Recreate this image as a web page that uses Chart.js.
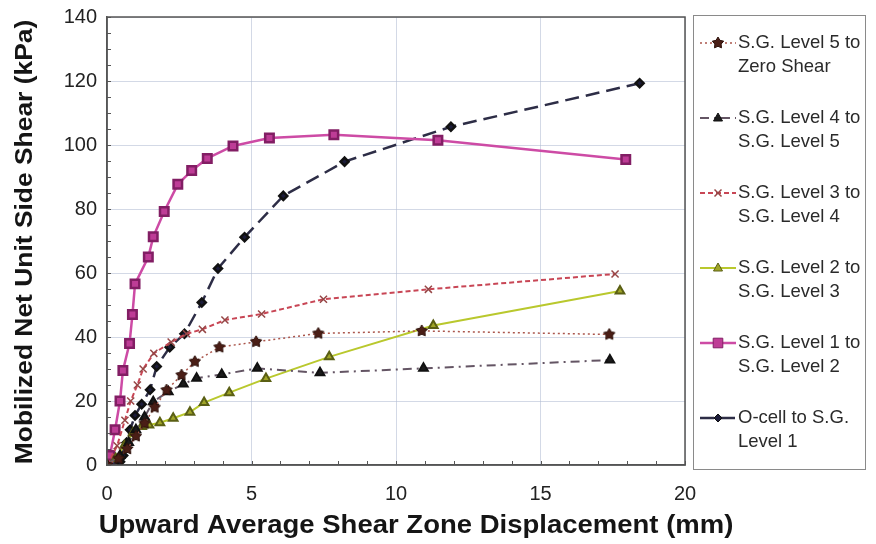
<!DOCTYPE html>
<html>
<head>
<meta charset="utf-8">
<script src="https://cdn.jsdelivr.net/npm/chart.js@4.4.0/dist/chart.umd.min.js"></script>
<style>
  body { margin: 0; background: #fff; }
  #wrap { width: 876px; height: 544px; }
</style>
</head>
<body>
<div id="wrap"><canvas id="shearChart" width="876" height="544"></canvas></div>
<script>
// series names (legend, two lines each)
var names = [
  ["S.G. Level 5 to", "Zero Shear"],
  ["S.G. Level 4 to", "S.G. Level 5"],
  ["S.G. Level 3 to", "S.G. Level 4"],
  ["S.G. Level 2 to", "S.G. Level 3"],
  ["S.G. Level 1 to", "S.G. Level 2"],
  ["O-cell to S.G.", "Level 1"]
];

// displacement (mm) / shear (kPa)
var xL5 = [0, 0.4, 0.7, 1.0, 1.3, 1.65, 2.06, 2.58, 3.04, 3.89, 5.16, 7.31, 10.89, 17.38];
var yL5 = [0, 2, 5, 9, 13, 18, 23.4, 28.1, 32.3, 36.8, 38.5, 41.1, 41.9, 40.8];

var xL4 = [0, 0.45, 0.75, 1.0, 1.3, 1.6, 2.12, 2.64, 3.1, 3.97, 5.2, 7.37, 10.95, 17.4];
var yL4 = [0, 3, 7, 11, 15, 19.8, 22.9, 25.3, 27.1, 28.3, 30.2, 28.8, 30.2, 32.8];

var xL3 = [0, 0.35, 0.62, 0.82, 1.05, 1.25, 1.62, 2.22, 2.75, 3.3, 4.08, 5.35, 7.49, 11.12, 17.58];
var yL3 = [0, 6, 14, 20, 25, 30, 34.9, 38.4, 41, 42.4, 45.3, 47.2, 51.8, 54.9, 59.7];

var xL2 = [0, 0.3, 0.6, 0.9, 1.2, 1.45, 1.83, 2.29, 2.87, 3.36, 4.23, 5.5, 7.69, 11.29, 17.75];
var yL2 = [0, 2, 6, 10, 12, 12.5, 13.2, 14.6, 16.5, 19.5, 22.6, 27, 33.8, 43.6, 54.4];

var xL1 = [0, 0.1, 0.28, 0.45, 0.55, 0.78, 0.88, 0.97, 1.43, 1.6, 1.98, 2.45, 2.93, 3.47, 4.36, 5.62, 7.85, 11.45, 17.95];
var yL1 = [0, 3, 11, 20, 29.5, 38, 47, 56.6, 65, 71.3, 79.2, 87.7, 92, 95.8, 99.7, 102.2, 103.2, 101.5, 95.5];

var xOC = [0, 0.45, 0.56, 0.68, 0.8, 0.97, 1.2, 1.49, 1.72, 2.17, 2.68, 3.28, 3.84, 4.76, 6.1, 8.22, 11.9, 18.43];
var yOC = [0, 1, 3, 7, 11, 15.5, 19, 23.5, 30.8, 36.8, 41, 50.8, 61.4, 71.2, 84.1, 94.8, 105.7, 119.3];

var xTicks = [0, 5, 10, 15, 20];
var yTicks = [0, 20, 40, 60, 80, 100, 120, 140];

var FONT = '"Liberation Sans", Arial, sans-serif';

function pts(xs, ys) {
  return xs.map(function (x, i) { return { x: x, y: ys[i] }; });
}

// filled star marker (chart.js 'star' is only an asterisk)
function makeStar(r, fill, stroke) {
  var c = document.createElement('canvas');
  c.width = c.height = r * 2 + 2;
  var g = c.getContext('2d');
  var cx = r + 1, cy = r + 1;
  g.beginPath();
  for (var k = 0; k < 10; k++) {
    var a = -Math.PI / 2 + k * Math.PI / 5;
    var rr = k % 2 ? r * 0.55 : r;
    g.lineTo(cx + rr * Math.cos(a), cy + rr * Math.sin(a));
  }
  g.closePath();
  g.fillStyle = fill;
  g.fill();
  g.strokeStyle = stroke;
  g.lineWidth = 1;
  g.stroke();
  return c;
}
var starImg = makeStar(6, '#4a1e16', '#2e120c');

// marker drawing for the legend
function drawMarker(ctx, style, r, x, y, fill, stroke) {
  ctx.save();
  if (style instanceof HTMLCanvasElement) {
    ctx.drawImage(style, x - style.width / 2, y - style.height / 2);
    ctx.restore();
    return;
  }
  ctx.fillStyle = fill;
  ctx.strokeStyle = stroke;
  ctx.lineWidth = 1;
  ctx.setLineDash([]);
  ctx.beginPath();
  if (style === 'rect') {
    ctx.rect(x - r * 0.8, y - r * 0.8, r * 1.6, r * 1.6);
  } else if (style === 'rectRot') {
    ctx.moveTo(x, y - r); ctx.lineTo(x + r, y); ctx.lineTo(x, y + r); ctx.lineTo(x - r, y);
    ctx.closePath();
  } else if (style === 'triangle') {
    ctx.moveTo(x, y - r); ctx.lineTo(x + r * 0.9, y + r * 0.6); ctx.lineTo(x - r * 0.9, y + r * 0.6);
    ctx.closePath();
  } else if (style === 'crossRot') {
    ctx.moveTo(x - r * 0.7, y - r * 0.7); ctx.lineTo(x + r * 0.7, y + r * 0.7);
    ctx.moveTo(x + r * 0.7, y - r * 0.7); ctx.lineTo(x - r * 0.7, y + r * 0.7);
    ctx.lineWidth = 1.5;
    ctx.stroke();
    ctx.restore();
    return;
  }
  ctx.fill();
  ctx.stroke();
  ctx.restore();
}

var boxLegend = {
  id: 'boxLegend',
  afterDraw: function (chart) {
    var ctx = chart.ctx;
    ctx.save();
    ctx.strokeStyle = '#8a8a8a';
    ctx.lineWidth = 1;
    ctx.strokeRect(693.5, 15.5, 172, 454);
    ctx.font = '18.5px ' + FONT;
    ctx.fillStyle = '#2a2a2a';
    ctx.textBaseline = 'middle';
    chart.data.datasets.forEach(function (ds, i) {
      var y = 43 + i * 75;
      ctx.save();
      ctx.strokeStyle = ds.borderColor;
      ctx.lineWidth = ds.borderWidth;
      ctx.setLineDash(ds.borderDash || []);
      ctx.beginPath();
      ctx.moveTo(700, y);
      ctx.lineTo(736, y);
      ctx.stroke();
      ctx.restore();
      drawMarker(ctx, ds.pointStyle, ds.pointRadius, 718, y, ds.pointBackgroundColor, ds.pointBorderColor);
      ctx.fillText(names[i][0], 738, y);
      ctx.fillText(names[i][1], 738, y + 24);
    });
    ctx.restore();
  }
};

// axis titles, slightly stretched like the original
var axisTitles = {
  id: 'axisTitles',
  afterDraw: function (chart) {
    var ctx = chart.ctx;
    ctx.save();
    ctx.font = 'bold 25px ' + FONT;
    ctx.fillStyle = '#151515';
    ctx.textAlign = 'center';
    ctx.textBaseline = 'middle';
    ctx.save();
    ctx.translate(416, 526);
    ctx.scale(1.1, 1);
    ctx.fillText('Upward Average Shear Zone Displacement (mm)', 0, 0);
    ctx.restore();
    ctx.save();
    ctx.translate(25, 242);
    ctx.rotate(-Math.PI / 2);
    ctx.scale(1.1, 1);
    ctx.font = 'bold 24px ' + FONT;
    ctx.fillText('Mobilized Net Unit Side Shear (kPa)', 0, 0);
    ctx.restore();
    ctx.restore();
  }
};

var minorTicks = {
  id: 'minorTicks',
  afterDraw: function (chart) {
    var ctx = chart.ctx, a = chart.chartArea;
    var xs = chart.scales.x, ys = chart.scales.y;
    ctx.save();
    ctx.strokeStyle = '#555';
    ctx.lineWidth = 1;
    ctx.beginPath();
    for (var v = 0; v <= 140; v += 5) {
      var py = Math.round(ys.getPixelForValue(v)) + 0.5;
      ctx.moveTo(a.left, py); ctx.lineTo(a.left + 4, py);
    }
    for (var u = 0; u <= 20; u += 1) {
      var px = Math.round(xs.getPixelForValue(u)) + 0.5;
      ctx.moveTo(px, a.bottom); ctx.lineTo(px, a.bottom - 4);
    }
    ctx.stroke();
    ctx.restore();
  }
};

var ctxS = document.getElementById('shearChart').getContext('2d');
var shearChart = new Chart(ctxS, {
  type: 'scatter',
  data: {
    datasets: [{
      label: names[0].join(' '),
      data: pts(xL5, yL5),
      showLine: true,
      borderColor: 'rgb(170, 85, 75)',
      borderWidth: 1.5,
      borderDash: [2, 3],
      pointStyle: starImg,
      pointRadius: 6,
      pointBackgroundColor: '#4a1e16',
      pointBorderColor: '#3a160f'
    },
    {
      label: names[1].join(' '),
      data: pts(xL4, yL4),
      showLine: true,
      borderColor: 'rgb(100, 85, 100)',
      borderWidth: 2,
      borderDash: [9, 5, 2, 5],
      pointStyle: 'triangle',
      pointRadius: 5,
      pointBackgroundColor: '#1c1c1c',
      pointBorderColor: '#111'
    },
    {
      label: names[2].join(' '),
      data: pts(xL3, yL3),
      showLine: true,
      borderColor: 'rgb(200, 70, 85)',
      borderWidth: 2,
      borderDash: [5, 3],
      pointStyle: 'crossRot',
      pointRadius: 5,
      pointBackgroundColor: 'rgb(150, 70, 70)',
      pointBorderColor: 'rgb(150, 70, 70)',
      pointBorderWidth: 1.5
    },
    {
      label: names[3].join(' '),
      data: pts(xL2, yL2),
      showLine: true,
      borderColor: 'rgb(185, 200, 45)',
      borderWidth: 2,
      pointStyle: 'triangle',
      pointRadius: 5,
      pointBackgroundColor: 'rgb(160, 165, 40)',
      pointBorderColor: 'rgb(90, 95, 20)'
    },
    {
      label: names[4].join(' '),
      data: pts(xL1, yL1),
      showLine: true,
      borderColor: 'rgb(205, 75, 165)',
      borderWidth: 2.5,
      pointStyle: 'rect',
      pointRadius: 6,
      pointBackgroundColor: 'rgb(190, 60, 150)',
      pointBorderColor: 'rgb(130, 30, 100)'
    },
    {
      label: names[5].join(' '),
      data: pts(xOC, yOC),
      showLine: true,
      borderColor: 'rgb(45, 45, 70)',
      borderWidth: 2.5,
      borderDash: [14, 7],
      pointStyle: 'rectRot',
      pointRadius: 4,
      pointBackgroundColor: '#1c1c3a',
      pointBorderColor: '#111'
    }]
  },
  options: {
    responsive: false,
    animation: false,
    layout: { padding: { left: 0, top: 17, right: 191, bottom: 0 } },
    plugins: {
      legend: { display: false },
      tooltip: { enabled: false }
    },
    scales: {
      x: {
        type: 'linear',
        min: 0, max: 20,
        afterBuildTicks: function (s) { s.ticks = xTicks.map(function (v) { return { value: v }; }); },
        afterFit: function (s) { s.height = 79; },
        grid: { color: 'rgba(175, 185, 210, 0.55)', drawTicks: false },
        border: { color: '#555', width: 1.5 },
        ticks: { padding: 17, color: '#222', font: { size: 20, family: FONT } }
      },
      y: {
        type: 'linear',
        min: 0, max: 140,
        afterBuildTicks: function (s) { s.ticks = yTicks.map(function (v) { return { value: v }; }); },
        afterFit: function (s) { s.width = 107; s.paddingTop = 0; },
        grid: { color: 'rgba(175, 185, 210, 0.55)', drawTicks: false },
        border: { color: '#555', width: 1.5 },
        ticks: { padding: 10, color: '#222', font: { size: 20, family: FONT } }
      }
    }
  },
  plugins: [minorTicks, boxLegend, axisTitles, {
    id: 'frame',
    afterDraw: function (chart) {
      var a = chart.chartArea, c = chart.ctx;
      c.save();
      c.strokeStyle = '#555';
      c.lineWidth = 1.5;
      c.strokeRect(a.left, a.top, a.right - a.left, a.bottom - a.top);
      c.restore();
    }
  }]
});
</script>
</body>
</html>
